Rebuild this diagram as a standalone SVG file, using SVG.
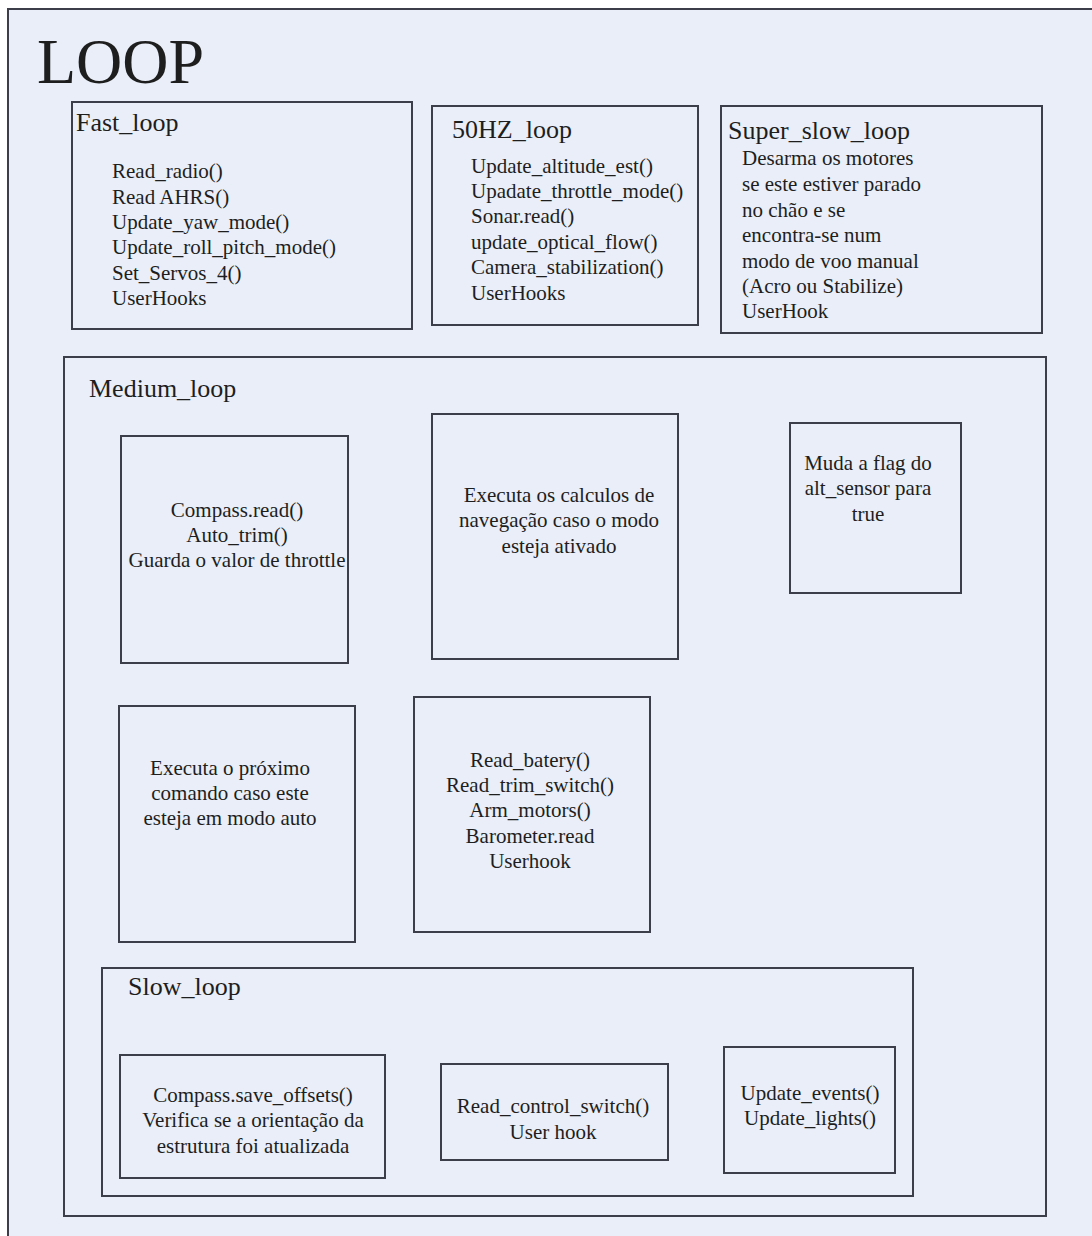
<svg xmlns="http://www.w3.org/2000/svg" width="1092" height="1236" viewBox="0 0 1092 1236">
<style>
.inner{fill:none;stroke:#3c3f4a;stroke-width:2}
.t{font-size:26px}
.i{font-size:21px}
.c{font-size:21px;text-anchor:middle}
</style>
<rect x="0" y="0" width="1092" height="1236" fill="#ffffff"/>
<rect x="8" y="9" width="1100" height="1240" fill="#e9eef8" stroke="#3c3f4a" stroke-width="2"/>
<g font-family="'Liberation Serif', 'Times New Roman', 'DejaVu Serif', serif" fill="#1e1e1e">
<text x="37" y="83" font-size="64">LOOP</text>

<g id="fast_loop">
<rect class="inner" x="72" y="102" width="340" height="227"/>
<text class="t" x="76" y="131">Fast_loop</text>
<text class="i" x="112" y="178">Read_radio()</text>
<text class="i" x="112" y="204">Read AHRS()</text>
<text class="i" x="112" y="229">Update_yaw_mode()</text>
<text class="i" x="112" y="254">Update_roll_pitch_mode()</text>
<text class="i" x="112" y="280">Set_Servos_4()</text>
<text class="i" x="112" y="305">UserHooks</text>
</g>

<g id="loop_50hz">
<rect class="inner" x="432" y="106" width="266" height="219"/>
<text class="t" x="452" y="138">50HZ_loop</text>
<text class="i" x="471" y="173">Update_altitude_est()</text>
<text class="i" x="471" y="198">Upadate_throttle_mode()</text>
<text class="i" x="471" y="223">Sonar.read()</text>
<text class="i" x="471" y="249">update_optical_flow()</text>
<text class="i" x="471" y="274">Camera_stabilization()</text>
<text class="i" x="471" y="300">UserHooks</text>
</g>

<g id="super_slow_loop">
<rect class="inner" x="721" y="106" width="321" height="227"/>
<text class="t" x="728" y="139">Super_slow_loop</text>
<text class="i" x="742" y="165">Desarma os motores</text>
<text class="i" x="742" y="191">se este estiver parado</text>
<text class="i" x="742" y="217">no chão e se</text>
<text class="i" x="742" y="242">encontra-se num</text>
<text class="i" x="742" y="268">modo de voo manual</text>
<text class="i" x="742" y="293">(Acro ou Stabilize)</text>
<text class="i" x="742" y="318">UserHook</text>
</g>

<g id="medium_loop">
<rect class="inner" x="64" y="357" width="982" height="859"/>
<text class="t" x="89" y="397">Medium_loop</text>
</g>

<g id="compass_read">
<rect class="inner" x="121" y="436" width="227" height="227"/>
<text class="c" x="237" y="517">Compass.read()</text>
<text class="c" x="237" y="542">Auto_trim()</text>
<text class="c" x="237" y="567">Guarda o valor de throttle</text>
</g>

<g id="nav_calc">
<rect class="inner" x="432" y="414" width="246" height="245"/>
<text class="c" x="559" y="502">Executa os calculos de</text>
<text class="c" x="559" y="527">navegação caso o modo</text>
<text class="c" x="559" y="553">esteja ativado</text>
</g>

<g id="alt_flag">
<rect class="inner" x="790" y="423" width="171" height="170"/>
<text class="c" x="868" y="470" font-size="20">Muda a flag do</text>
<text class="c" x="868" y="495" font-size="20">alt_sensor para</text>
<text class="c" x="868" y="521" font-size="20">true</text>
</g>

<g id="next_cmd">
<rect class="inner" x="119" y="706" width="236" height="236"/>
<text class="c" x="230" y="775">Executa o próximo</text>
<text class="c" x="230" y="800">comando caso este</text>
<text class="c" x="230" y="825">esteja em modo auto</text>
</g>

<g id="read_batery">
<rect class="inner" x="414" y="697" width="236" height="235"/>
<text class="c" x="530" y="767">Read_batery()</text>
<text class="c" x="530" y="792">Read_trim_switch()</text>
<text class="c" x="530" y="817">Arm_motors()</text>
<text class="c" x="530" y="843">Barometer.read</text>
<text class="c" x="530" y="868">Userhook</text>
</g>

<g id="slow_loop">
<rect class="inner" x="102" y="968" width="811" height="228"/>
<text class="t" x="128" y="995">Slow_loop</text>
</g>

<g id="compass_save">
<rect class="inner" x="120" y="1055" width="265" height="123"/>
<text class="c" x="253" y="1102">Compass.save_offsets()</text>
<text class="c" x="253" y="1127">Verifica se a orientação da</text>
<text class="c" x="253" y="1153">estrutura foi atualizada</text>
</g>

<g id="read_control">
<rect class="inner" x="441" y="1064" width="227" height="96"/>
<text class="c" x="553" y="1113">Read_control_switch()</text>
<text class="c" x="553" y="1139">User hook</text>
</g>

<g id="update_events">
<rect class="inner" x="724" y="1047" width="171" height="126"/>
<text class="c" x="810" y="1100">Update_events()</text>
<text class="c" x="810" y="1125">Update_lights()</text>
</g>
</g>

<g id="connectors"></g>
</svg>
